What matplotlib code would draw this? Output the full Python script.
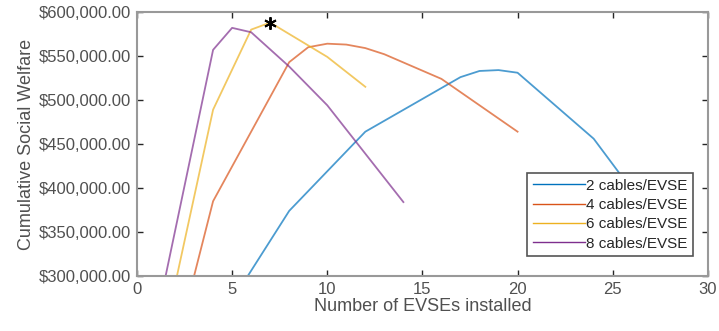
import matplotlib
matplotlib.use('Agg')
from matplotlib import pyplot as plt
from matplotlib.ticker import FuncFormatter

# Cumulative social welfare ($) vs. number of EVSEs installed
evse_2 = [5, 8, 12, 17, 18, 19, 20, 24, 26]
welfare_2 = [272000, 374000, 464000, 526000, 533000, 534000, 531000, 456000, 398000]

evse_4 = [3, 4, 8, 9, 10, 11, 12, 13, 16, 20]
welfare_4 = [300000, 385000, 543000, 560000, 564000, 563000, 559000, 552000, 524000, 464000]

evse_6 = [2, 4, 6, 7, 8, 9, 10, 12]
welfare_6 = [290000, 489000, 580000, 588000, 575000, 562000, 549000, 515000]

evse_8 = [1, 4, 5, 6, 8, 10, 14]
welfare_8 = [248000, 557000, 582000, 577000, 538000, 494000, 384000]

best_evse = 7
best_welfare = 588000

series = [
    (evse_2, welfare_2, '2 cables/EVSE', '#0072BD'),
    (evse_4, welfare_4, '4 cables/EVSE', '#D95319'),
    (evse_6, welfare_6, '6 cables/EVSE', '#EDB120'),
    (evse_8, welfare_8, '8 cables/EVSE', '#7E2F8E'),
]

plt.rcParams['font.family'] = ['Liberation Sans', 'DejaVu Sans']

fig = plt.figure(figsize=(7.19, 3.31), dpi=100)
ax = fig.add_axes([0.1905, 0.1662, 0.794, 0.7975])

for x, y, name, col in series:
    ax.plot(x, y, color=col, lw=1.3, alpha=0.7, label=name)
# asterisk marking the best configuration
ax.plot([best_evse], [best_welfare], marker=(6, 2, 0), color='black',
        mew=1.4, ms=9, ls='none')

ax.set_xlim(0, 30)
ax.set_ylim(300000, 600000)
ax.set_xticks(range(0, 31, 5))
ax.set_yticks(range(300000, 600001, 50000))
ax.yaxis.set_major_formatter(FuncFormatter(lambda v, p: '${:,.2f}'.format(v)))

txt = '#505050'
ax.tick_params(direction='in', top=True, right=True, length=4, width=1,
               color='#262626', labelsize=12, labelcolor=txt, pad=4)
for s in ax.spines.values():
    s.set_color('#999999')
    s.set_linewidth(1.5)

ax.set_xlabel('Number of EVSEs installed', fontsize=13, color=txt, labelpad=1)
ax.set_ylabel('Cumulative Social Welfare', fontsize=13, color=txt, labelpad=3)

leg = ax.legend(loc='lower right', bbox_to_anchor=(0.974, 0.076), fontsize=11,
                frameon=True, fancybox=False, framealpha=1, handlelength=3.4,
                handletextpad=0.1, labelspacing=0.35, borderpad=0.35,
                borderaxespad=0)
leg.get_frame().set_edgecolor('#555555')
leg.get_frame().set_linewidth(1.2)
for h in leg.get_lines():
    h.set_alpha(1)
    h.set_linewidth(1)
for t in leg.get_texts():
    t.set_color('#262626')

fig.savefig('out.png', dpi=100)
